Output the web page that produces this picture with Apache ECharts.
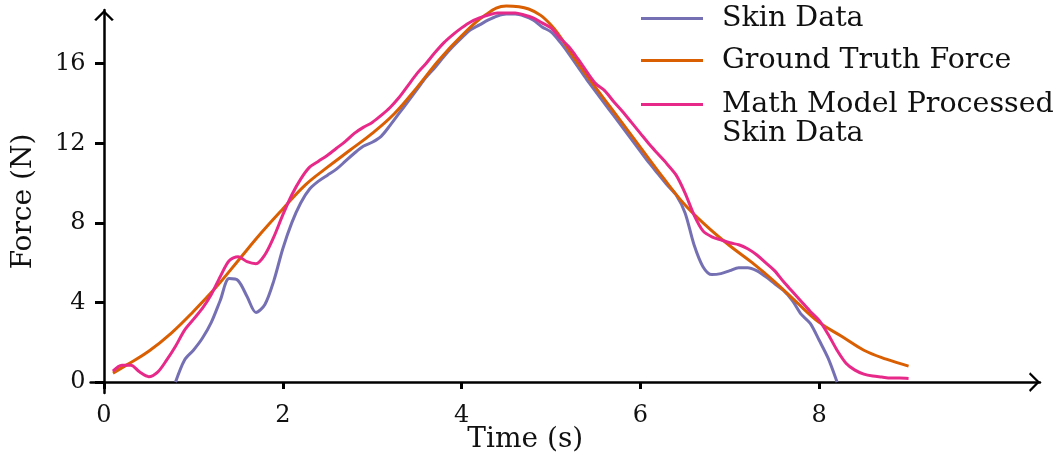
<!DOCTYPE html>
<html>
<head>
<meta charset="utf-8">
<script src="https://cdn.jsdelivr.net/npm/echarts@6/dist/echarts.min.js"></script>
<style>html,body{margin:0;padding:0;background:#fff}#c{width:1058px;height:454px}</style>
</head>
<body>
<div id="c"></div>
<script>
const xTicks = [0, 2, 4, 6, 8];
const yTicks = [0, 4, 8, 12, 16];

const truthT = [0.1, 0.25, 0.5, 0.75, 1.0, 1.25, 1.5, 1.75, 2.0, 2.25, 2.5, 2.75, 3.0, 3.25, 3.5, 3.75, 4.0, 4.25, 4.5, 4.75, 5.0, 5.25, 5.5, 5.75, 6.0, 6.25, 6.5, 6.75, 7.0, 7.25, 7.5, 7.75, 8.0, 8.25, 8.5, 8.75, 9.0];
const truthF = [0.45, 0.85, 1.55, 2.45, 3.55, 4.75, 6.1, 7.45, 8.7, 9.9, 10.8, 11.65, 12.5, 13.5, 14.8, 16.2, 17.4, 18.4, 18.9, 18.75, 17.95, 16.35, 14.8, 13.3, 11.8, 10.3, 8.9, 7.8, 6.85, 6.0, 5.05, 4.0, 3.0, 2.3, 1.6, 1.15, 0.8];

const skinT = [0.8, 0.9, 1.0, 1.1, 1.2, 1.3, 1.4, 1.5, 1.6, 1.7, 1.8, 1.9, 2.0, 2.1, 2.2, 2.3, 2.4, 2.5, 2.6, 2.7, 2.8, 2.9, 3.0, 3.1, 3.2, 3.3, 3.4, 3.5, 3.6, 3.7, 3.8, 3.9, 4.0, 4.1, 4.2, 4.3, 4.4, 4.5, 4.6, 4.7, 4.8, 4.9, 5.0, 5.1, 5.2, 5.3, 5.4, 5.5, 5.6, 5.7, 5.8, 5.9, 6.0, 6.1, 6.2, 6.3, 6.4, 6.5, 6.6, 6.7, 6.8, 6.9, 7.0, 7.1, 7.2, 7.3, 7.4, 7.5, 7.6, 7.7, 7.8, 7.9, 8.0, 8.1, 8.2];
const skinF = [0.0, 1.1, 1.6, 2.2, 3.0, 4.1, 5.2, 5.1, 4.3, 3.5, 3.9, 5.1, 6.7, 8.0, 9.0, 9.7, 10.1, 10.4, 10.7, 11.1, 11.5, 11.85, 12.05, 12.35, 12.9, 13.5, 14.1, 14.7, 15.3, 15.8, 16.35, 16.85, 17.3, 17.7, 17.95, 18.2, 18.4, 18.5, 18.5, 18.4, 18.2, 17.85, 17.6, 17.1, 16.5, 15.85, 15.2, 14.6, 14.0, 13.4, 12.8, 12.2, 11.6, 11.0, 10.45, 9.9, 9.4, 8.5, 6.9, 5.8, 5.4, 5.45, 5.6, 5.75, 5.75, 5.6, 5.3, 4.95, 4.6, 4.1, 3.4, 2.95, 2.1, 1.2, 0.0];

const modelT = [0.1, 0.2, 0.3, 0.4, 0.5, 0.6, 0.7, 0.8, 0.9, 1.0, 1.1, 1.2, 1.3, 1.4, 1.5, 1.6, 1.7, 1.8, 1.9, 2.0, 2.1, 2.2, 2.3, 2.4, 2.5, 2.6, 2.7, 2.8, 2.9, 3.0, 3.1, 3.2, 3.3, 3.4, 3.5, 3.6, 3.7, 3.8, 3.9, 4.0, 4.1, 4.2, 4.3, 4.4, 4.5, 4.6, 4.7, 4.8, 4.9, 5.0, 5.1, 5.2, 5.3, 5.4, 5.5, 5.6, 5.7, 5.8, 5.9, 6.0, 6.1, 6.2, 6.3, 6.4, 6.5, 6.6, 6.7, 6.8, 6.9, 7.0, 7.1, 7.2, 7.3, 7.4, 7.5, 7.6, 7.7, 7.8, 7.9, 8.0, 8.1, 8.2, 8.3, 8.4, 8.5, 8.6, 8.7, 8.8, 8.9, 9.0];
const modelF = [0.55, 0.85, 0.85, 0.5, 0.27, 0.5, 1.1, 1.8, 2.6, 3.15, 3.7, 4.4, 5.3, 6.1, 6.3, 6.05, 5.95, 6.4, 7.3, 8.4, 9.4, 10.2, 10.8, 11.1, 11.4, 11.75, 12.1, 12.5, 12.8, 13.05, 13.4, 13.8, 14.3, 14.9, 15.5, 16.0, 16.55, 17.05, 17.45, 17.8, 18.1, 18.3, 18.45, 18.55, 18.55, 18.55, 18.45, 18.3, 18.05, 17.8, 17.3, 16.85, 16.25, 15.6, 15.0, 14.65, 14.1, 13.6, 13.05, 12.5, 11.95, 11.45, 10.95, 10.4, 9.5, 8.4, 7.6, 7.3, 7.15, 7.0, 6.9, 6.7, 6.4, 6.0, 5.6, 5.05, 4.55, 4.05, 3.55, 3.1, 2.4, 1.6, 0.95, 0.6, 0.4, 0.3, 0.25, 0.2, 0.2, 0.18];

const FONT = 'DejaVu Serif';
const TXT = '#111';
const chevron = 'path://M100,0 L200,100 L180,112 L100,32 L20,112 L0,100 Z';

function pairs(t, f) { return t.map((v, i) => [v, f[i]]); }

const axisCommon = {
  type: 'value',
  axisLine: { onZero: true, lineStyle: { color: '#000', width: 2.5 }, symbol: ['none', chevron], symbolSize: [21, 11], symbolOffset: [0, -5.5] },
  splitLine: { show: false },
  nameMoveOverlap: false,
};

const legendText = { fontFamily: FONT, fontSize: 28.5, lineHeight: 29, color: TXT, padding: [0, 0, 0, 14] };

const chart = echarts.init(document.getElementById('c'), null, { renderer: 'canvas' });
chart.setOption({
  animation: false,
  backgroundColor: '#fff',
  color: ['#7570b3', '#d95f02', '#e7298a'],
  grid: { left: 90.6, right: 18, top: 10, bottom: 61, containLabel: false, outerBoundsMode: 'none' },
  legend: [
    {
      data: ['Skin Data', 'Ground Truth Force'],
      orient: 'vertical', left: 641, top: 4, padding: 0, itemGap: 13,
      itemWidth: 62, itemHeight: 3, icon: 'rect',
      textStyle: legendText
    },
    {
      data: ['Math Model Processed Skin Data'],
      orient: 'vertical', left: 641, top: 61, padding: 0,
      itemWidth: 62, itemHeight: 3, icon: 'rect',
      formatter: () => ' \nMath Model Processed\nSkin Data',
      textStyle: legendText
    }
  ],
  xAxis: Object.assign({}, axisCommon, {
    min: -0.15, max: 10.47,
    name: 'Time (s)', nameLocation: 'middle', nameGap: 39,
    nameTextStyle: { fontFamily: FONT, fontSize: 28, lineHeight: 16, color: TXT, padding: [0, 80, 0, 0] },
    axisTick: { show: true, customValues: xTicks, length: 7, lineStyle: { color: '#000', width: 3 } },
    axisLabel: { customValues: xTicks, fontFamily: FONT, fontSize: 24, color: TXT, margin: 11 },
  }),
  yAxis: Object.assign({}, axisCommon, {
    min: -0.55, max: 18.7,
    name: 'Force (N)', nameLocation: 'middle', nameGap: 53,
    nameTextStyle: { fontFamily: FONT, fontSize: 28, color: TXT },
    axisTick: { show: true, customValues: yTicks, length: 9, lineStyle: { color: '#000', width: 3 } },
    axisLabel: { customValues: yTicks, fontFamily: FONT, fontSize: 24, color: TXT, margin: 5 },
  }),
  series: [
    { name: 'Skin Data', type: 'line', data: pairs(skinT, skinF), showSymbol: false, smooth: 0.3, clip: false, lineStyle: { width: 3 }, z: 2 },
    { name: 'Ground Truth Force', type: 'line', data: pairs(truthT, truthF), showSymbol: false, smooth: 0.4, clip: false, lineStyle: { width: 3 }, z: 3 },
    { name: 'Math Model Processed Skin Data', type: 'line', data: pairs(modelT, modelF), showSymbol: false, smooth: 0.3, clip: false, lineStyle: { width: 3 }, z: 4 }
  ]
});
</script>
</body>
</html>
